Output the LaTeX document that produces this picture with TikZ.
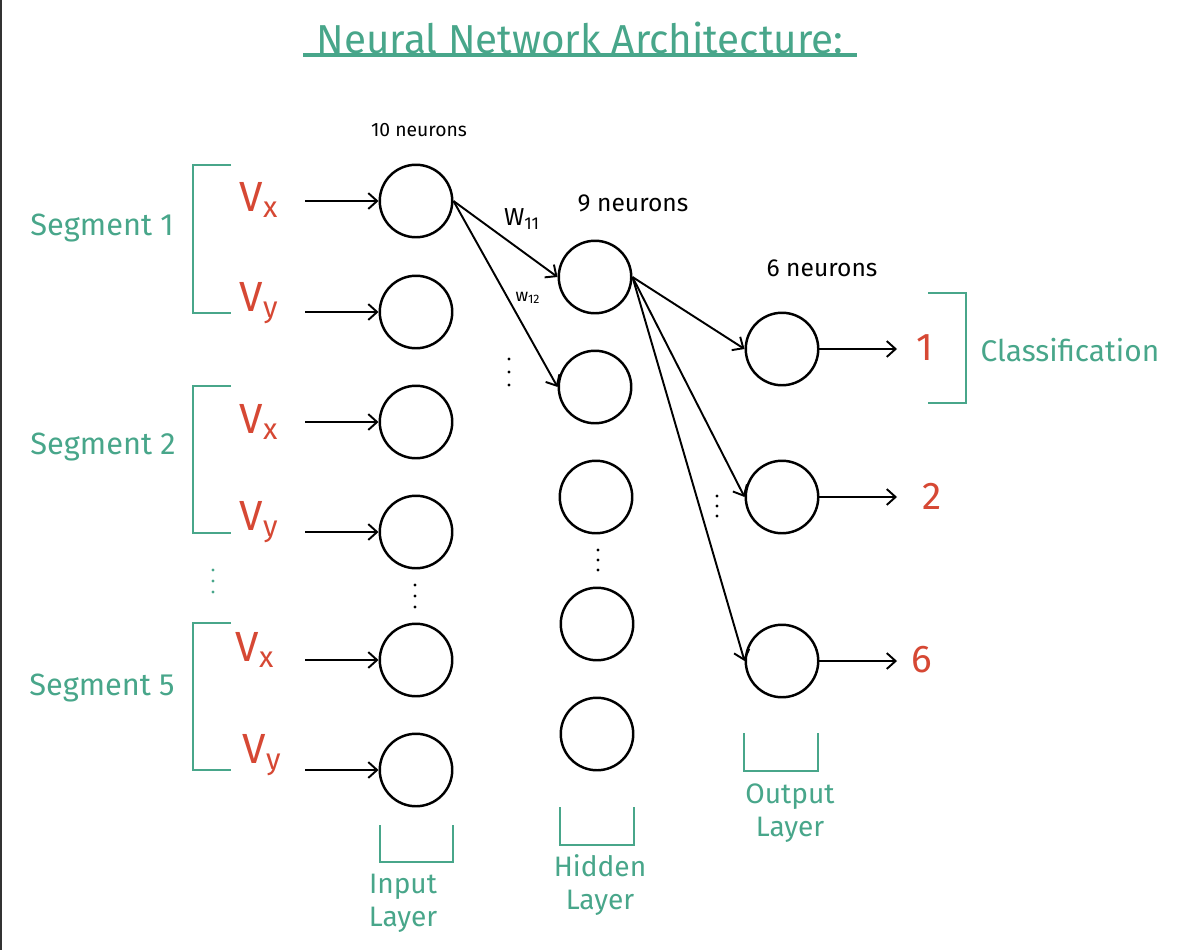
\documentclass[tikz,border=0pt]{standalone}
\usepackage{fontspec}
\setmainfont{Fira Sans}
\definecolor{nnteal}{RGB}{72,166,138}
\definecolor{nnred}{RGB}{214,72,52}
\usetikzlibrary{arrows.meta,positioning}

\begin{document}
\begin{tikzpicture}[x=0.02cm, y=-0.02cm,
  neuron/.style={draw, circle, line width=1.4pt, inner sep=0pt, minimum size=1.45cm},
  link/.style={line width=1.1pt, -{Straight Barb[length=5pt,width=9pt]}},
  brk/.style={nnteal, line width=1.6pt},
  feat/.style={text=nnred, font=\fontsize{24}{24}\selectfont},
  tag/.style={text=nnteal, font=\fontsize{17.5}{17.5}\selectfont},
  lyr/.style={text=nnteal, font=\fontsize{16}{19}\selectfont, align=center},
  cnt/.style={font=\fontsize{14}{14}\selectfont}]
  \useasboundingbox (0,0) rectangle (1182,950);
  \draw[black!80, line width=1.2pt] (1,0) -- (1,950);
  % title
  \node[text=nnteal, font=\fontsize{23}{23}\selectfont] (title) at (580,38) {Neural Network Architecture:};
  \draw[nnteal, line width=1.8pt] (303,55) -- (857,55);
  % input features
  \node[tag] (seg1) at (102,228) {Segment 1};
  \node[tag] (seg2) at (103,447) {Segment 2};
  \node[tag] (seg5) at (102,688) {Segment 5};
  \draw[brk] (231,165) -- (193,165) -- (193,313) -- (231,313);
  \draw[brk] (231,386) -- (193,386) -- (193,533) -- (231,533);
  \draw[brk] (231,623) -- (193,623) -- (193,770) -- (231,770);
  \fill[nnteal] (213,570) circle (1.7) (213,581) circle (1.7) (213,592) circle (1.7);
  \node[feat] (vx1) at (259,200) {V\textsubscript{x}};
  \node[feat] (vy1) at (259,303) {V\textsubscript{y}};
  \node[feat] (vx2) at (259,422) {V\textsubscript{x}};
  \node[feat] (vy2) at (259,522) {V\textsubscript{y}};
  \node[feat] (vx5) at (255,650) {V\textsubscript{x}};
  \node[feat] (vy5) at (262,755) {V\textsubscript{y}};
  % input layer
  \node[cnt, font=\fontsize{11}{11}\selectfont] (n10) at (419,130) {10 neurons};
  \node[neuron] (in1) at (416,201) {};
  \node[neuron] (in2) at (416,312) {};
  \node[neuron] (in3) at (416,422) {};
  \node[neuron] (in4) at (416,532) {};
  \fill (415,585) circle (1.7) (415,596) circle (1.7) (415,607) circle (1.7);
  \node[neuron] (in9) at (416,660) {};
  \node[neuron] (in10) at (416,770) {};
  \coordinate (src1) at (305,201);
  \coordinate (src2) at (305,312);
  \coordinate (src3) at (305,422);
  \coordinate (src4) at (305,532);
  \coordinate (src9) at (305,660);
  \coordinate (src10) at (305,770);
  \draw[link] (src1) -- (in1);
  \draw[link] (src2) -- (in2);
  \draw[link] (src3) -- (in3);
  \draw[link] (src4) -- (in4);
  \draw[link] (src9) -- (in9);
  \draw[link] (src10) -- (in10);
  \draw[brk] (380,825) -- (380,862) -- (453,862) -- (453,825);
  \node[lyr] (inlbl) at (403,903) {Input\\Layer};
  % hidden layer
  \node[cnt] (n9) at (633,203) {9 neurons};
  \node[neuron] (hid1) at (595,277) {};
  \node[neuron] (hid2) at (595,387) {};
  \node[neuron] (hid3) at (596,497) {};
  \fill (598,550) circle (1.7) (598,560) circle (1.7) (598,570) circle (1.7);
  \node[neuron] (hid8) at (597,624) {};
  \node[neuron] (hid9) at (597,734) {};
  \fill (509,359) circle (1.7) (509,372) circle (1.7) (509,385) circle (1.7);
  \draw[link] (in1.east) -- (hid1.west);
  \draw[link] (in1.east) -- (hid2.west);
  \node[cnt] (w11) at (522,219) {W\textsubscript{11}};
  \node[cnt, font=\fontsize{10}{10}\selectfont] (w12) at (528,298) {w\textsubscript{12}};
  \draw[brk] (560,807) -- (560,845) -- (634,845) -- (634,807);
  \node[lyr] (hidlbl) at (600,885) {Hidden\\Layer};
  % output layer
  \node[cnt] (n6) at (822,268) {6 neurons};
  \node[neuron] (out1) at (782,349) {};
  \node[neuron] (out2) at (782,497) {};
  \node[neuron] (out6) at (782,661) {};
  \fill (717,496) circle (1.7) (717,506) circle (1.7) (717,516) circle (1.7);
  \draw[link] (hid1.east) -- (out1.west);
  \draw[link] (hid1.east) -- (out2.west);
  \draw[link] (hid1.east) -- (out6.west);
  \coordinate (res1) at (897,349);
  \coordinate (res2) at (897,497);
  \coordinate (res6) at (897,661);
  \draw[link] (out1) -- (res1);
  \draw[link] (out2) -- (res2);
  \draw[link] (out6) -- (res6);
  \node[feat, font=\fontsize{22}{22}\selectfont] (cls1) at (925,348) {1};
  \node[feat, font=\fontsize{22}{22}\selectfont] (cls2) at (932,496) {2};
  \node[feat, font=\fontsize{22}{22}\selectfont] (cls6) at (922,660) {6};
  \draw[brk] (928,293) -- (966,293) -- (966,403) -- (928,403);
  \node[tag, font=\fontsize{17}{17}\selectfont] (clsname) at (1070,350) {Classification};
  \draw[brk] (744,733) -- (744,771) -- (818,771) -- (818,733);
  \node[lyr] (outlbl) at (790,813) {Output\\Layer};
\end{tikzpicture}
\end{document}
